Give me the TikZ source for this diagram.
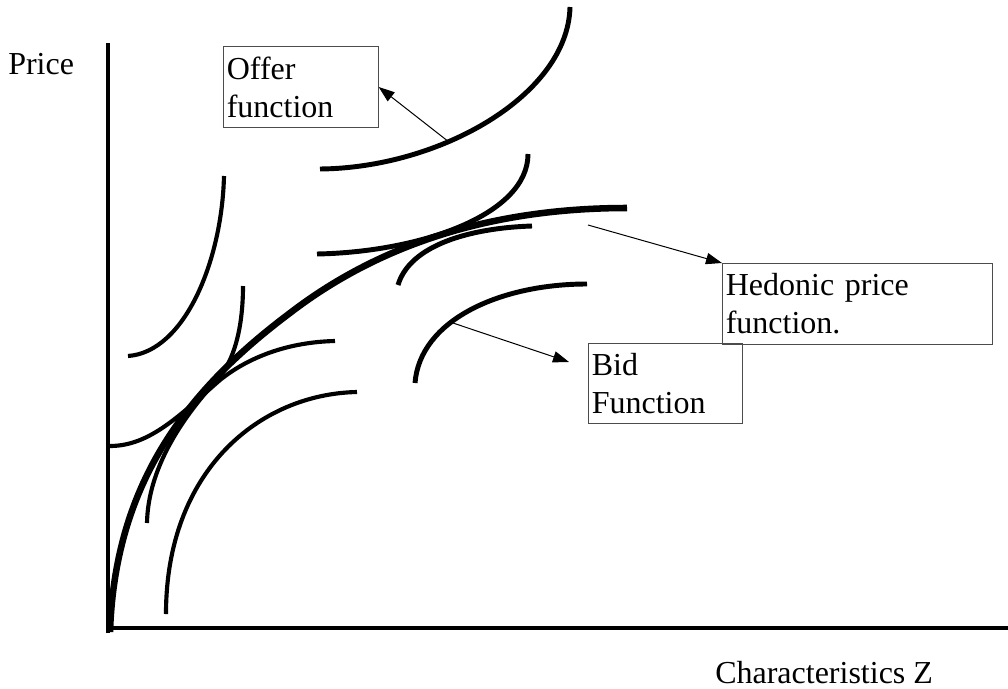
\documentclass[tikz,border=0pt]{standalone}
\usepackage{fontspec}
\setmainfont{Liberation Serif}
\usetikzlibrary{arrows.meta}
\tikzset{
  axisline/.style={line width=3.6pt},
  hedonic/.style={line width=4.9pt},
  curvemed/.style={line width=3.7pt},
  curvethin/.style={line width=3.1pt},
  labelbox/.style={draw=black!70, line width=0.75pt, anchor=north west, align=left,
    inner xsep=2.5pt, inner ysep=0pt, font=\fontsize{24}{28.5}\selectfont},
  plaintext/.style={inner sep=0pt, anchor=base west, font=\fontsize{24}{28.5}\selectfont},
  pointer/.style={line width=0.75pt, -{Triangle[length=12pt,width=8.5pt]}}
}
\begin{document}
\begin{tikzpicture}[x=0.75pt,y=-0.75pt]
\useasboundingbox (0,0) rectangle (1008,689);
% axes
\coordinate (ytop) at (108,43);
\coordinate (origin) at (108,633);
\coordinate (xend) at (1008,628);
\draw[axisline] (ytop) -- (origin);
\draw[axisline] (106,628) -- (xend);
\node[plaintext] (price) at (8,74) {Price};
\node[plaintext] (charz) at (715,683) {Characteristics Z};
% hedonic price function
\draw[hedonic] (110,632) .. controls (115,480) and (190,388) .. (290,313)
  .. controls (385,240) and (500,208) .. (627,208);
% offer functions
\draw[curvemed] (320,169) .. controls (440,168) and (568,95) .. (570,7);
\draw[curvemed] (317,254) .. controls (420,252) and (528,215) .. (528,154);
\draw[curvethin] (128,356) .. controls (185,352) and (222,260) .. (224,176);
\draw[curvethin] (147,523) .. controls (148,470) and (180,420) .. (217,380)
  .. controls (237,358) and (243,320) .. (243,286);
% bid functions
\draw[curvemed] (398,285) .. controls (410,245) and (470,228) .. (532,226);
\draw[curvethin] (110,446) .. controls (150,446) and (180,415) .. (220,380)
  .. controls (250,356) and (290,342) .. (335,341);
\draw[curvethin] (166,614) .. controls (166,470) and (260,394) .. (357,392);
\draw[curvemed] (415,383) .. controls (420,320) and (500,284) .. (587,284);
% label boxes
\node[labelbox, text width=111pt, minimum height=60.75pt] (offer) at (223,46) {Offer\\function};
\node[labelbox, text width=197.5pt, minimum height=60.75pt] (hed) at (722,263) {Hedonic price\\function.};
\node[labelbox, text width=110.5pt, minimum height=60pt] (bid) at (588,343) {Bid\\Function};
% pointers
\coordinate (offerpt) at (449,142);
\coordinate (hedpt) at (588,225);
\coordinate (bidpt) at (453,323);
\coordinate (bidtip) at (569,362);
\draw[pointer] (offerpt) -- (offer.east);
\draw[pointer] (hedpt) -- (hed.north west);
\draw[pointer] (bidpt) -- (bidtip);
\end{tikzpicture}
\end{document}
